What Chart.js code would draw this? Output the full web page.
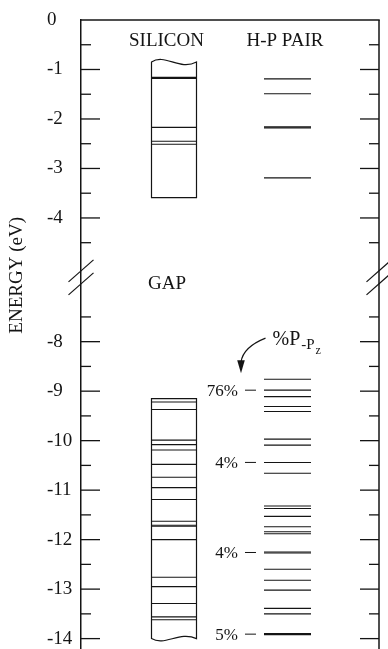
<!DOCTYPE html>
<html>
<head>
<meta charset="utf-8">
<script src="https://cdn.jsdelivr.net/npm/chart.js@4.4.1/dist/chart.umd.min.js"></script>
<style>
  html, body { margin: 0; padding: 0; background: #ffffff; }
  #wrap { width: 388px; height: 649px; position: relative; }
</style>
</head>
<body>
<div id="wrap"><canvas id="chart"></canvas></div>
<script>
// ---------------- DATA ----------------
const columns = ["SILICON", "H-P PAIR"];

// Silicon energy levels (eV)
const siliconLevels = [-1.16, -1.18, -2.17, -2.45, -2.51,
  -9.22, -9.37, -9.99, -10.08, -10.19, -10.48, -10.74, -10.95, -11.19,
  -11.63, -11.71, -11.73, -12.00, -12.76, -12.95, -13.29, -13.56, -13.62];

// Silicon band edges (eV): upper band top/bottom, lower band top/bottom
const siliconUpperBand = [-0.85, -3.59];
const siliconLowerBand = [-9.15, -14.0];

// H-P pair energy levels (eV)
const hpLevels = [-1.19, -1.49, -2.16, -2.18, -3.19,
  -8.76, -8.98, -9.11, -9.31, -9.41, -9.97, -10.09, -10.44, -10.66,
  -11.32, -11.37, -11.53, -11.74, -11.84, -11.88, -12.25, -12.27,
  -12.60, -12.82, -13.02, -13.39, -13.50, -13.90, -13.92];

// %P-pz character of selected H-P levels
const pzLabels = ["76%", "4%", "4%", "5%"];
const pzLevels = [-8.98, -10.44, -12.26, -13.91];

// Axis ticks (eV)
const tickEnergies = [0, -1, -2, -3, -4, -8, -9, -10, -11, -12, -13, -14];
const tickLabels = ["0", "-1", "-2", "-3", "-4", "-8", "-9", "-10", "-11", "-12", "-13", "-14"];
const minorTickEnergies = [-0.5, -1.5, -2.5, -3.5, -4.5, -7.5, -8.5, -9.5, -10.5, -11.5, -12.5, -13.5];

// Broken axis: energies below BREAK_AT are shifted up by GAP_SHIFT
const BREAK_AT = -6;
const GAP_SHIFT = 1.5;
function toAxis(e) { return e > BREAK_AT ? e : e + GAP_SHIFT; }
const BREAK_MARK = -5.2;

// ---------------- STYLE ----------------
const INK = '#141414';
const SERIF = '"Liberation Serif", "Times New Roman", Times, serif';
const SI_HALF = 22.5;
const HP_HALF = 23.5;

function seg(ctx, x1, y1, x2, y2) {
  ctx.beginPath(); ctx.moveTo(x1, y1); ctx.lineTo(x2, y2); ctx.stroke();
}

const decor = {
  id: 'decor',
  afterDraw(chart) {
    const { ctx, chartArea: a, scales: { x, y } } = chart;
    const siX = x.getPixelForValue(0);
    const hpX = x.getPixelForValue(1);
    ctx.save();
    ctx.strokeStyle = INK;
    ctx.fillStyle = INK;

    // frame: top border and right axis
    ctx.lineWidth = 1.5;
    seg(ctx, a.left - 0.75, a.top, a.right + 0.75, a.top);
    seg(ctx, a.right, a.top, a.right, a.bottom);

    // inward tick marks on both axes
    ctx.lineWidth = 1.3;
    tickEnergies.forEach(e => {
      const py = y.getPixelForValue(toAxis(e));
      if (e !== 0) {
        seg(ctx, a.left, py, a.left + 19, py);
        seg(ctx, a.right, py, a.right - 19, py);
      }
    });
    minorTickEnergies.forEach(e => {
      const py = y.getPixelForValue(toAxis(e));
      seg(ctx, a.left, py, a.left + 10, py);
      seg(ctx, a.right, py, a.right - 10, py);
    });

    // axis break marks
    const by = y.getPixelForValue(BREAK_MARK);
    ctx.lineWidth = 1.2;
    [a.left, a.right].forEach(ax => {
      [-6.5, 6.5].forEach(off => {
        seg(ctx, ax - 12.5, by + off + 11, ax + 12.5, by + off - 11);
      });
    });

    // silicon band boxes
    ctx.lineWidth = 1.2;
    const L = siX - SI_HALF, R = siX + SI_HALF, W = R - L;
    // upper band: wavy top, straight bottom
    {
      const t = y.getPixelForValue(toAxis(siliconUpperBand[0]));
      const b = y.getPixelForValue(toAxis(siliconUpperBand[1]));
      ctx.beginPath();
      ctx.moveTo(L, b); ctx.lineTo(L, t);
      ctx.bezierCurveTo(L + W * 0.3, t - 9, L + W * 0.62, t + 9, R, t);
      ctx.lineTo(R, b); ctx.closePath();
      ctx.stroke();
    }
    // lower band: straight top, wavy bottom
    {
      const t = y.getPixelForValue(toAxis(siliconLowerBand[0]));
      const b = y.getPixelForValue(toAxis(siliconLowerBand[1]));
      ctx.beginPath();
      ctx.moveTo(R, t); ctx.lineTo(L, t); ctx.lineTo(L, b);
      ctx.bezierCurveTo(L + W * 0.3, b + 8, L + W * 0.62, b - 8, R, b);
      ctx.closePath();
      ctx.stroke();
    }

    // column headings
    ctx.textBaseline = 'alphabetic';
    ctx.textAlign = 'left';
    ctx.font = '19px ' + SERIF;
    ctx.fillText(columns[0], siX - 45, a.top + 26);
    ctx.fillText(columns[1], hpX - 41, a.top + 26);
    ctx.fillText('GAP', siX - 26, by + 12);

    // %P-pz labels with dashes
    ctx.font = '17px ' + SERIF;
    ctx.textAlign = 'right';
    ctx.textBaseline = 'middle';
    ctx.lineWidth = 1;
    pzLabels.forEach((lab, i) => {
      const py = y.getPixelForValue(toAxis(pzLevels[i]));
      const lx = hpX - HP_HALF;
      ctx.fillText(lab, lx - 26, py + 1.5);
      seg(ctx, lx - 19, py, lx - 8, py);
    });

    // annotation "%P-pz" with curved arrow
    const p76 = y.getPixelForValue(toAxis(pzLevels[0]));
    const tx = hpX - 15, ty = p76 - 45;
    ctx.textAlign = 'left';
    ctx.textBaseline = 'alphabetic';
    ctx.font = '20px ' + SERIF;
    ctx.fillText('%P', tx, ty);
    let cx = tx + ctx.measureText('%P').width + 1;
    ctx.font = '15px ' + SERIF;
    ctx.fillText('-P', cx, ty + 4);
    cx += ctx.measureText('-P').width + 1;
    ctx.font = '12px ' + SERIF;
    ctx.fillText('z', cx, ty + 9);

    const ax0 = hpX - 22, ay0 = p76 - 52;
    const tipX = hpX - 46.5, tipY = p76 - 17;
    ctx.lineWidth = 1.2;
    ctx.beginPath();
    ctx.moveTo(ax0, ay0);
    ctx.quadraticCurveTo(tipX + 2, ay0 + 9, tipX, tipY - 11);
    ctx.stroke();
    ctx.beginPath();
    ctx.moveTo(tipX, tipY);
    ctx.lineTo(tipX - 3.8, tipY - 13);
    ctx.lineTo(tipX + 3.8, tipY - 13);
    ctx.closePath();
    ctx.fill();

    // y axis title
    ctx.save();
    ctx.translate(17, by - 2);
    ctx.rotate(-Math.PI / 2);
    ctx.textAlign = 'center';
    ctx.textBaseline = 'middle';
    ctx.font = '19px ' + SERIF;
    ctx.fillText('ENERGY (eV)', 0, 0);
    ctx.restore();

    ctx.restore();
  }
};

const lineStyle = {
  showLine: false,
  pointStyle: 'line',
  pointBorderColor: INK,
  pointBackgroundColor: 'transparent',
  pointBorderWidth: 1.1,
  borderColor: INK,
  backgroundColor: 'transparent'
};

new Chart(document.getElementById('chart'), {
  type: 'scatter',
  data: {
    datasets: [
      Object.assign({
        label: columns[0],
        data: siliconLevels.map(e => ({ x: 0, y: toAxis(e) })),
        pointRadius: SI_HALF, pointHoverRadius: SI_HALF
      }, lineStyle),
      Object.assign({
        label: columns[1],
        data: hpLevels.map(e => ({ x: 1, y: toAxis(e) })),
        pointRadius: HP_HALF, pointHoverRadius: HP_HALF
      }, lineStyle)
    ]
  },
  options: {
    responsive: true,
    maintainAspectRatio: false,
    animation: false,
    events: [],
    layout: { autoPadding: false, padding: { left: 47, right: 9, top: 20, bottom: 0 } },
    plugins: { legend: { display: false }, tooltip: { enabled: false } },
    scales: {
      x: { type: 'linear', display: false, min: -0.8194, max: 1.8062 },
      y: {
        type: 'linear',
        min: -12.71, max: 0,
        afterBuildTicks: s => { s.ticks = tickEnergies.map(e => ({ value: toAxis(e) })); },
        afterFit: s => { s.width = 34; s.paddingTop = 0; s.paddingBottom = 0; },
        grid: { display: false, drawTicks: false },
        border: { display: true, color: INK, width: 1.5 },
        ticks: {
          autoSkip: false,
          crossAlign: 'far',
          padding: 0,
          color: INK,
          font: { family: SERIF, size: 19 },
          callback: (v) => {
            const i = tickEnergies.findIndex(e => Math.abs(toAxis(e) - v) < 1e-6);
            return i >= 0 ? tickLabels[i] : '';
          }
        }
      }
    }
  },
  plugins: [decor]
});
</script>
</body>
</html>
